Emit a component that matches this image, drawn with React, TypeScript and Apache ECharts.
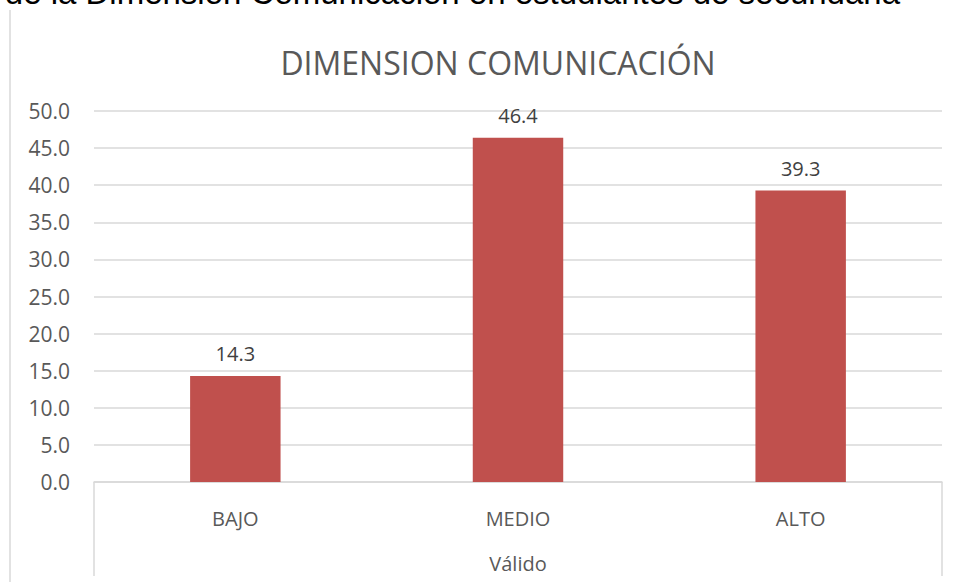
import React, { useEffect, useRef } from "react";
import * as echarts from "echarts";

const categories = ["BAJO", "MEDIO", "ALTO"];
const values = [14.3, 46.4, 39.3];
const groupLabel = "Válido";
const chartTitle = "DIMENSION COMUNICACIÓN";
const caption = "Resultados de la Dimensión Comunicación en estudiantes de secundaria";

export default function App() {
  const ref = useRef<HTMLDivElement>(null);
  useEffect(() => {
    if (!ref.current) return;
    const chart = echarts.init(ref.current, null, { renderer: "svg" });
    const font = "'Open Sans', sans-serif";
    chart.setOption({
      animation: false,
      backgroundColor: "#ffffff",
      title: {
        text: chartTitle,
        left: 493,
        top: 41,
        textAlign: "center",
        textStyle: { fontFamily: font, fontSize: 32, fontWeight: "normal", color: "#595959" },
      },
      grid: { left: 94, right: 18, top: 111, bottom: 100, containLabel: false },
      xAxis: {
        type: "category",
        data: categories,
        axisLine: { show: true, lineStyle: { color: "#D9D9D9", width: 1.5 } },
        axisTick: { show: false },
        axisLabel: { fontFamily: font, fontSize: 20, color: "#595959", margin: 26 },
      },
      yAxis: {
        type: "value",
        min: 0,
        max: 50,
        interval: 5,
        axisLine: { show: false },
        axisTick: { show: false },
        splitLine: { lineStyle: { color: "#D9D9D9", width: 1.5 } },
        axisLabel: {
          fontFamily: font,
          fontSize: 21,
          color: "#595959",
          margin: 24,
          formatter: (v: number) => v.toFixed(1),
        },
      },
      series: [
        {
          type: "bar",
          data: values,
          barWidth: "32%",
          itemStyle: { color: "#C0504D" },
          label: {
            show: true,
            position: "top",
            distance: 12,
            fontFamily: font,
            fontSize: 20,
            color: "#404040",
            formatter: (p: any) => Number(p.value).toFixed(1),
          },
        },
      ],
      graphic: [
        {
          type: "text",
          x: 900,
          y: 9,
          style: {
            text: caption,
            fontFamily: "'Liberation Sans', Arial, sans-serif",
            fontSize: 33,
            fill: "#000000",
            align: "right",
            verticalAlign: "bottom",
          },
        },
        {
          type: "line",
          shape: { x1: 10, y1: 10, x2: 10, y2: 582 },
          style: { stroke: "#D9D9D9", lineWidth: 1.5 },
        },
        {
          type: "line",
          shape: { x1: 94, y1: 482, x2: 94, y2: 576 },
          style: { stroke: "#D9D9D9", lineWidth: 1.5 },
        },
        {
          type: "line",
          shape: { x1: 942, y1: 482, x2: 942, y2: 576 },
          style: { stroke: "#D9D9D9", lineWidth: 1.5 },
        },
        {
          type: "text",
          x: 518,
          y: 563,
          style: {
            text: groupLabel,
            fontFamily: font,
            fontSize: 20,
            fill: "#595959",
            align: "center",
            verticalAlign: "middle",
          },
        },
      ],
    });
    return () => chart.dispose();
  }, []);
  return (
    <div
      ref={ref}
      style={{ position: "fixed", left: 0, top: 0, width: 960, height: 582 }}
    />
  );
}
